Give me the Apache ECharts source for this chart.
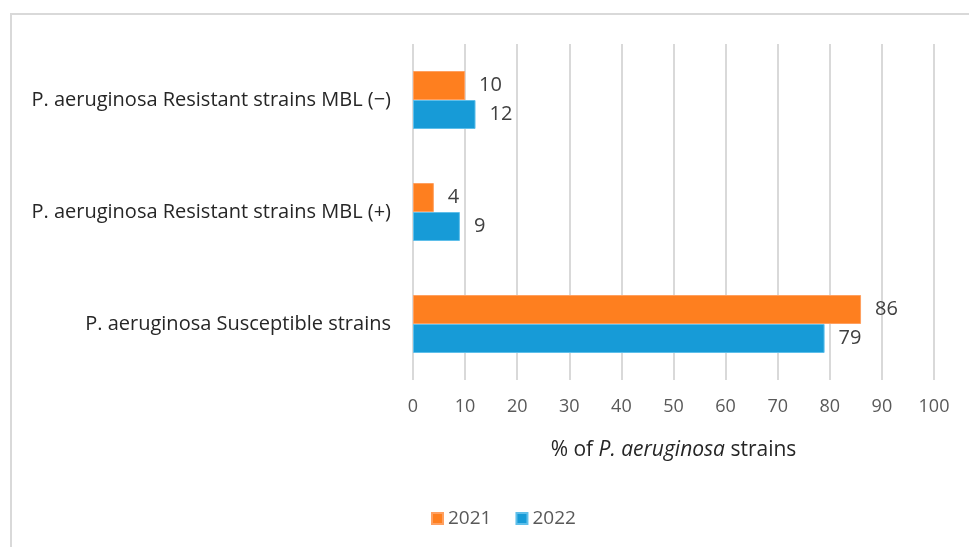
<!DOCTYPE html>
<html>
<head>
<meta charset="utf-8">
<script src="https://cdn.jsdelivr.net/npm/echarts@6/dist/echarts.min.js"></script>
<style>
  html, body { margin: 0; padding: 0; background: #fff; }
  #chart { width: 969px; height: 547px; }
</style>
</head>
<body>
<div id="chart"></div>
<script>
// categories bottom to top (echarts draws first category at the bottom)
var categories = [
    'P. aeruginosa Susceptible strains',
    'P. aeruginosa Resistant strains MBL (+)',
    'P. aeruginosa Resistant strains MBL (\u2212)'
];
var values2021 = [86, 4, 10];
var values2022 = [79, 9, 12];
var xTicks = [0, 100, 10];

var font = '"Open Sans", "Liberation Sans", sans-serif';

var chart = echarts.init(document.getElementById('chart'));
var option = {
    animation: false,
    textStyle: { fontFamily: font },
    graphic: [{
        type: 'rect',
        shape: { x: 11, y: 14, width: 1000, height: 600 },
        style: { fill: 'none', stroke: '#d9d9d9', lineWidth: 2 },
        silent: true
    }],
    grid: { left: 413, right: 35, top: 44, bottom: 167 },
    legend: {
        data: ['2021', '2022'],
        bottom: 14,
        left: 426,
        itemWidth: 11,
        itemHeight: 11,
        itemGap: 24,
        icon: 'rect',
        textStyle: { fontSize: 19, color: '#595959', fontFamily: font }
    },
    xAxis: {
        type: 'value',
        min: xTicks[0],
        max: xTicks[1],
        interval: xTicks[2],
        axisLine: { show: false },
        axisTick: { show: false },
        splitLine: { lineStyle: { color: '#d9d9d9', width: 2 } },
        axisLabel: { fontSize: 18, color: '#595959', margin: 18 },
        name: '{n|% of }{i|P. aeruginosa}{n| strains}',
        nameLocation: 'middle',
        nameGap: 60,
        nameTextStyle: {
            rich: {
                n: { fontSize: 21, color: '#262626', fontFamily: font },
                i: { fontSize: 21, color: '#262626', fontStyle: 'italic', fontFamily: font }
            }
        }
    },
    yAxis: {
        type: 'category',
        data: categories,
        axisLine: { show: false },
        axisTick: { show: false },
        axisLabel: { fontSize: 20, color: '#262626', margin: 22 }
    },
    series: [{
        name: '2021',
        type: 'bar',
        data: values2021,
        barWidth: 29,
        barGap: '0%',
        itemStyle: { color: '#fe7f1f', borderColor: '#ffa060', borderWidth: 1 },
        label: { show: true, position: 'right', distance: 14, fontSize: 20, color: '#404040' }
    }, {
        name: '2022',
        type: 'bar',
        data: values2022,
        barWidth: 29,
        barGap: '0%',
        itemStyle: { color: '#179bd7', borderColor: '#5fbfea', borderWidth: 1 },
        label: { show: true, position: 'right', distance: 14, fontSize: 20, color: '#404040' }
    }]
};
chart.setOption(option);
</script>
</body>
</html>
